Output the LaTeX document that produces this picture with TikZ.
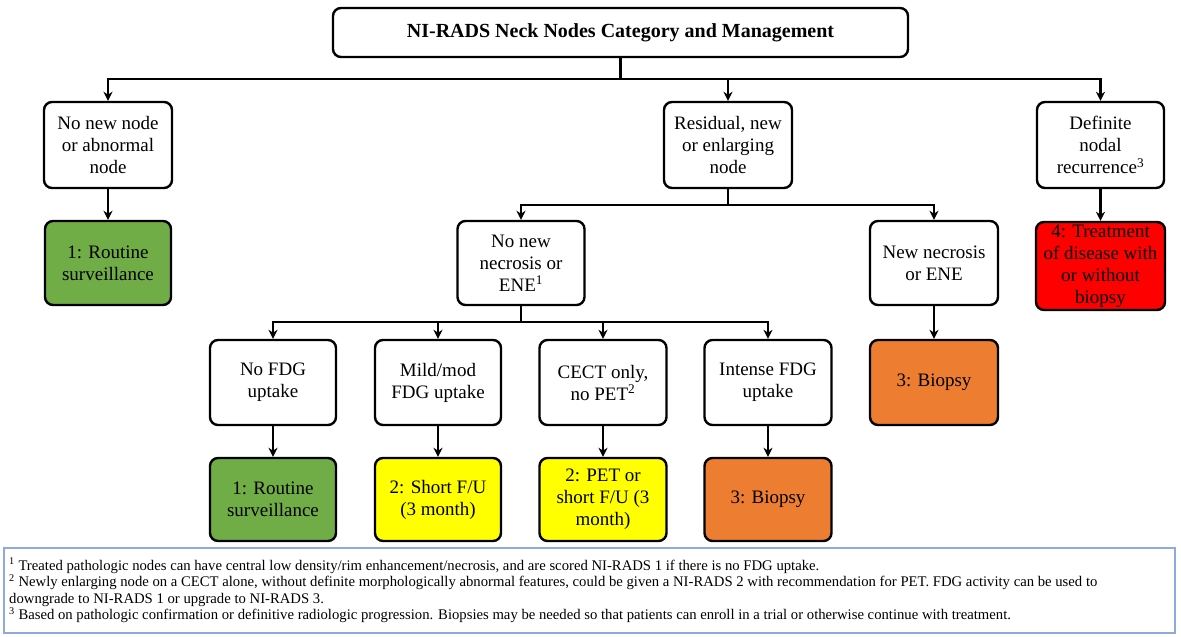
\documentclass[tikz,border=0pt]{standalone}
\usepackage{fontspec}
\setmainfont{Liberation Serif}
\newfontfamily\tnr{Liberation Serif}
\usetikzlibrary{arrows.meta}
\definecolor{cgreen}{RGB}{112,173,71}
\definecolor{cyellow}{RGB}{255,255,0}
\definecolor{corange}{RGB}{237,125,49}
\definecolor{cred}{RGB}{255,0,0}
\definecolor{cblue}{RGB}{143,170,220}
\begin{document}
\begin{tikzpicture}[x=1pt,y=-1pt,
  box/.style={draw,line width=2.4pt,rounded corners=8pt,align=center,inner sep=0pt,
    font=\tnr\fontsize{19}{22}\selectfont,fill=white},
  arr/.style={line width=2.4pt,-{Stealth[length=9pt,width=9pt]}},
  ln/.style={line width=2.4pt}]
\useasboundingbox (0,0) rectangle (1181,637);
% title
\node[box,minimum width=575pt,minimum height=49pt,font=\tnr\fontsize{20}{22}\selectfont\bfseries] (title) at (620.5,32.5) {NI-RADS Neck Nodes Category and Management};
% level 1
\node[box,minimum width=128pt,minimum height=86pt] (A) at (108,145) {No new node\\or abnormal\\node};
\node[box,minimum width=128pt,minimum height=86pt] (B) at (728,145) {Residual, new\\or enlarging\\node};
\node[box,minimum width=127pt,minimum height=86pt] (C) at (1100.5,145) {Definite\\nodal\\recurrence\textsuperscript{3}};
% level 2
\node[box,fill=cgreen,minimum width=126pt,minimum height=84pt] (A1) at (108,263) {1: Routine\\surveillance};
\node[box,fill=cred,minimum width=129pt,minimum height=88pt] (C1) at (1100.5,266) {4: Treatment\\of disease with\\or without\\biopsy};
\node[box,minimum width=127pt,minimum height=84pt] (B1) at (521,263) {No new\\necrosis or\\ENE\textsuperscript{1}};
\node[box,minimum width=128pt,minimum height=84pt] (B2) at (934,263) {New necrosis\\or ENE};
% level 3
\node[box,fill=corange,minimum width=128pt,minimum height=85pt] (B2a) at (934,382.5) {3: Biopsy};
\node[box,minimum width=126pt,minimum height=85pt] (D1) at (273,382.5) {No FDG\\uptake};
\node[box,minimum width=126pt,minimum height=85pt] (D2) at (438,382.5) {Mild/mod\\FDG uptake};
\node[box,minimum width=127pt,minimum height=85pt] (D3) at (603,382.5) {CECT only,\\no PET\textsuperscript{2}};
\node[box,minimum width=127pt,minimum height=85pt] (D4) at (768,382.5) {Intense FDG\\uptake};
% level 4
\node[box,fill=cgreen,minimum width=126pt,minimum height=83pt] (E1) at (273,499.5) {1: Routine\\surveillance};
\node[box,fill=cyellow,minimum width=126pt,minimum height=83pt] (E2) at (438,499.5) {2: Short F/U\\(3 month)};
\node[box,fill=cyellow,minimum width=127pt,minimum height=83pt] (E3) at (603,499.5) {2: PET or\\short F/U (3\\month)};
\node[box,fill=corange,minimum width=127pt,minimum height=83pt] (E4) at (768,499.5) {3: Biopsy};
% junctions
\coordinate (j0) at (620.5,79);
\coordinate (j1) at (728,205);
\coordinate (j2) at (521,322);
% connectors
\draw[ln] (title.south) -- (j0);
\draw[arr] (j0) -| (A.north);
\draw[arr] (j0) -| (B.north);
\draw[arr] (j0) -| (C.north);
\draw[arr] (A.south) -- (A1.north);
\draw[arr] (C.south) -- (C1.north);
\draw[ln] (B.south) -- (j1);
\draw[arr] (j1) -| (B1.north);
\draw[arr] (j1) -| (B2.north);
\draw[arr] (B2.south) -- (B2a.north);
\draw[ln] (B1.south) -- (j2);
\draw[arr] (j2) -| (D1.north);
\draw[arr] (j2) -| (D2.north);
\draw[arr] (j2) -| (D3.north);
\draw[arr] (j2) -| (D4.north);
\draw[arr] (D1.south) -- (E1.north);
\draw[arr] (D2.south) -- (E2.north);
\draw[arr] (D3.south) -- (E3.north);
\draw[arr] (D4.south) -- (E4.north);
% footnotes
\node[draw=cblue,line width=1.2pt,minimum width=1171pt,minimum height=85pt,inner sep=0pt] (fbox) at (589.5,590.5) {};
\node[anchor=west,align=left,inner sep=0pt,font=\tnr\fontsize{14.7}{16.6}\selectfont] (ftext) at (9,590.5) {\textsuperscript{1} Treated pathologic nodes can have central low density/rim enhancement/necrosis, and are scored NI-RADS 1 if there is no FDG uptake.\\
\textsuperscript{2} Newly enlarging node on a CECT alone, without definite morphologically abnormal features, could be given a NI-RADS 2 with recommendation for PET. FDG activity can be used to\\
downgrade to NI-RADS 1 or upgrade to NI-RADS 3.\\
\textsuperscript{3} Based on pathologic confirmation or definitive radiologic progression. Biopsies may be needed so that patients can enroll in a trial or otherwise continue with treatment.};
\end{tikzpicture}
\end{document}
